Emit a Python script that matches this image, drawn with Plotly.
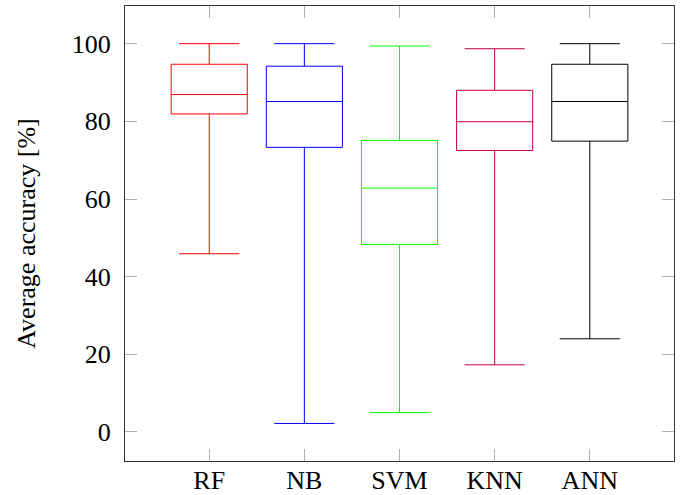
import plotly.graph_objects as go

categories = ["RF", "NB", "SVM", "KNN", "ANN"]
lower_whisker = [45.9, 2.2, 5.0, 17.3, 24.0]
q1_values = [81.9, 73.3, 48.3, 72.5, 74.9]
median_values = [86.9, 85.1, 62.8, 79.9, 85.1]
q3_values = [94.7, 94.2, 75.1, 88.0, 94.7]
upper_whisker = [100.0, 100.0, 99.4, 98.7, 100.0]
y_ticks = [0, 20, 40, 60, 80, 100]

colors = ["#ff0000", "#0000ff", "#00ff00", "#bf0040", "#000000"]

FONT = "Liberation Serif, DejaVu Serif, serif"

fig = go.Figure()
for i, cat in enumerate(categories):
    fig.add_trace(go.Box(
        x=[cat],
        q1=[q1_values[i]],
        median=[median_values[i]],
        q3=[q3_values[i]],
        lowerfence=[lower_whisker[i]],
        upperfence=[upper_whisker[i]],
        name=cat,
        width=0.80,
        whiskerwidth=0.79,
        line=dict(color=colors[i], width=1),
        fillcolor="rgba(0,0,0,0)",
        boxpoints=False,
        showlegend=False,
    ))

fig.update_layout(
    width=688, height=495,
    margin=dict(l=125, r=14, t=6, b=34, pad=0),
    paper_bgcolor="white",
    plot_bgcolor="white",
    font=dict(family=FONT, size=26, color="black"),
    boxmode="overlay",
)

fig.update_xaxes(
    type="category",
    categoryorder="array", categoryarray=categories,
    range=[-0.885, 4.885],
    automargin=False,
    showline=True, linecolor="#333333", linewidth=1.2, mirror="ticks",
    ticks="inside", ticklen=12, tickcolor="#b0b0b0", tickwidth=1,
    showgrid=False, zeroline=False,
    ticklabelstandoff=-4,
    tickfont=dict(family=FONT, size=26),
)
fig.update_yaxes(
    range=[-7.47, 109.7],
    automargin=False,
    tickvals=y_ticks, ticktext=[str(v) for v in y_ticks],
    showline=True, linecolor="#333333", linewidth=1.2, mirror="ticks",
    ticks="inside", ticklen=12, tickcolor="#b0b0b0", tickwidth=1,
    showgrid=False, zeroline=False,
    ticklabelstandoff=8,
    tickfont=dict(family=FONT, size=26),
    title=dict(text="Average accuracy [%]", font=dict(family=FONT, size=26), standoff=28),
)

fig.write_html(
    "out.html",
    config={"displayModeBar": False},
    post_script="document.body.style.margin='0';document.body.style.padding='0';",
)
